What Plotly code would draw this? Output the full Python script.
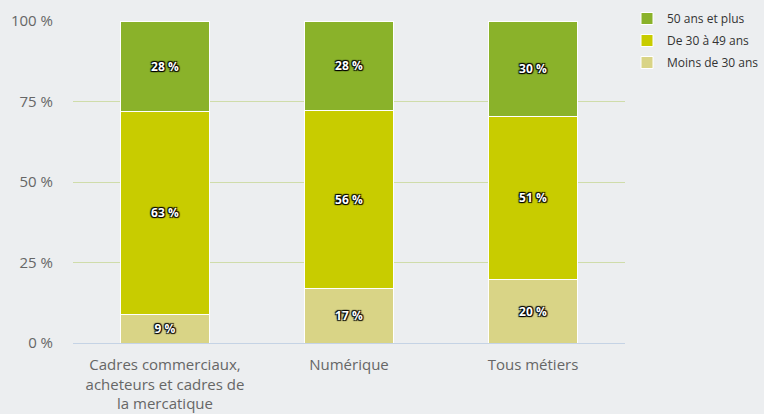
import plotly.graph_objects as go

categories = ["Cadres commerciaux,<br>acheteurs et cadres de<br>la mercatique", "Numérique", "Tous métiers"]
moins_30 = [9, 17, 20]
de_30_49 = [63, 56, 51]
plus_50 = [28, 28, 30]
y_ticks = [0, 25, 50, 75, 100]
y_tick_labels = ["0 %", "25 %", "50 %", "75 %", "100 %"]

series = [
    ("Moins de 30 ans", moins_30, "#d9d486", 3),
    ("De 30 à 49 ans", de_30_49, "#c8cc00", 2),
    ("50 ans et plus", plus_50, "#8ab22a", 1),
]

fig = go.Figure()
for name, vals, col, rank in series:
    fig.add_trace(go.Bar(
        x=categories, y=vals, name=name, legendgroup=name, legendrank=rank,
        marker=dict(color=col, line=dict(color="white", width=1)),
        text=[f"{v} %" for v in vals], textposition="inside",
        insidetextanchor="middle",
        textfont=dict(family="Open Sans", size=12, color="white", weight="bold",
                      shadow="1px 1px 1px #000, -1px -1px 1px #000, 1px -1px 1px #000, -1px 1px 1px #000"),
        hoverinfo="skip",
    ))

fig.update_layout(
    barmode="stack", barnorm="percent", bargap=0.52,
    width=764, height=414,
    margin=dict(l=73, r=139, t=21, b=71, autoexpand=False),
    paper_bgcolor="#eceef0", plot_bgcolor="#eceef0",
    font=dict(family="Open Sans", color="#666666"),
    legend=dict(xref="container", yref="container", x=627 / 764, xanchor="left",
                y=1 - 4 / 414, yanchor="top", traceorder="grouped", tracegroupgap=3,
                font=dict(size=12, color="#333333"), bgcolor="rgba(0,0,0,0)"),
    xaxis=dict(tickfont=dict(size=15, color="#666666"), showline=True, linecolor="#c5d3e5",
               linewidth=1, ticks="", showgrid=False, automargin=False, ticklabelstandoff=8),
    yaxis=dict(range=[0, 100], tickvals=y_ticks, ticktext=y_tick_labels, showgrid=True,
               gridcolor="#cfdcaa", gridwidth=1, zeroline=False, automargin=False,
               tickfont=dict(size=15, color="#666666"), ticklabelstandoff=19),
)
fig.write_html("out.html", config={"displayModeBar": False},
               post_script="document.body.style.margin='0';")
